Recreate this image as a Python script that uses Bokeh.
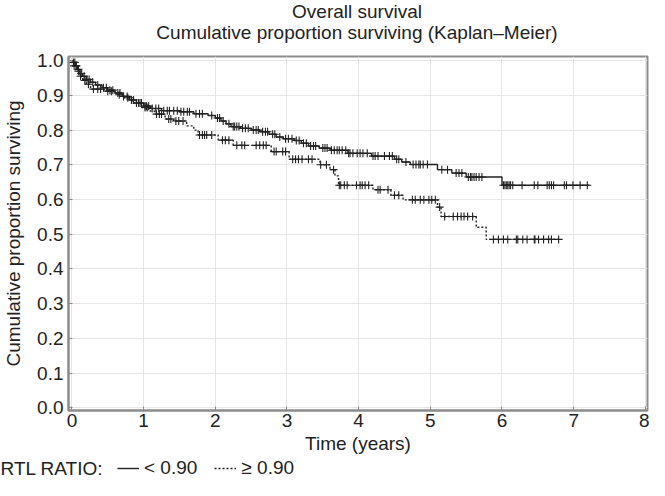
import numpy as np
from bokeh.plotting import figure
from bokeh.layouts import column
from bokeh.models import (Legend, LegendItem, FixedTicker, Label,
                          PrintfTickFormatter, Range1d)
from bokeh.embed import file_html
from bokeh.resources import INLINE

# ---------------- data ----------------
title_line1 = "Overall survival"
title_line2 = "Cumulative proportion surviving (Kaplan\u2013Meier)"
x_label = "Time (years)"
y_label = "Cumulative proportion surviving"
legend_title = "RTL RATIO:"
group_low = "< 0.90"
group_high = "\u2265 0.90"

x_ticks = [0, 1, 2, 3, 4, 5, 6, 7, 8]
y_ticks = [0.0, 0.1, 0.2, 0.3, 0.4, 0.5, 0.6, 0.7, 0.8, 0.9, 1.0]

# RTL ratio < 0.90 : event times and survival after each step
low_time = [0.0, 0.02, 0.05, 0.08, 0.11, 0.15, 0.20, 0.26, 0.33, 0.42, 0.50,
            0.60, 0.70, 0.80, 0.90, 1.00, 1.10, 1.25, 1.50, 1.70, 1.90, 2.00,
            2.08, 2.15, 2.22, 2.35, 2.50, 2.62, 2.75, 2.85, 2.95, 3.10, 3.20,
            3.30, 3.45, 3.60, 3.85, 4.18, 4.50, 4.60, 4.72, 5.10, 5.30, 5.50,
            6.00]
low_surv = [1.0, 0.995, 0.985, 0.975, 0.963, 0.955, 0.946, 0.938, 0.930,
            0.922, 0.915, 0.907, 0.897, 0.887, 0.878, 0.869, 0.862, 0.856,
            0.853, 0.847, 0.842, 0.835, 0.826, 0.818, 0.810, 0.805, 0.800,
            0.795, 0.788, 0.780, 0.775, 0.770, 0.762, 0.754, 0.748, 0.742,
            0.733, 0.725, 0.716, 0.708, 0.701, 0.686, 0.676, 0.665, 0.641]
low_end = 7.22
low_censor = [0.02, 0.04, 0.06, 0.09, 0.13, 0.17, 0.21, 0.24, 0.29, 0.36, 0.44,
              0.48, 0.53, 0.57, 0.64, 0.67, 0.72, 0.77, 0.83, 0.86, 0.93, 0.97,
              1.02, 1.04, 1.07, 1.12, 1.17, 1.21, 1.28, 1.33, 1.36, 1.42, 1.47,
              1.52, 1.56, 1.61, 1.64, 1.73, 1.78, 1.82, 1.95, 2.03, 2.06, 2.11,
              2.19, 2.25, 2.27, 2.30, 2.33, 2.38, 2.42, 2.46, 2.53, 2.57, 2.60,
              2.66, 2.70, 2.73, 2.80, 2.83, 2.90, 2.98, 3.02, 3.07, 3.13, 3.17,
              3.23, 3.27, 3.33, 3.37, 3.40, 3.50, 3.53, 3.56, 3.62, 3.66, 3.70,
              3.73, 3.77, 3.82, 3.86, 3.88, 3.92, 3.98, 4.02, 4.06, 4.12, 4.20,
              4.23, 4.27, 4.36, 4.43, 4.47, 4.53, 4.56, 4.66, 4.76, 4.80, 4.84,
              4.86, 4.90, 4.96, 5.16, 5.24, 5.36, 5.40, 5.44, 5.53, 5.56, 5.58,
              5.61, 5.64, 5.68, 5.72, 6.02, 6.04, 6.06, 6.08, 6.10, 6.12, 6.15,
              6.28, 6.45, 6.50, 6.63, 6.66, 6.69, 6.72, 6.87, 6.90, 6.99, 7.09,
              7.19]

# RTL ratio >= 0.90
high_time = [0.0, 0.03, 0.07, 0.10, 0.15, 0.20, 0.26, 0.45, 0.62, 0.72, 0.85,
             0.97, 1.08, 1.15, 1.30, 1.42, 1.60, 1.70, 1.76, 2.04, 2.25, 2.78,
             3.03, 3.46, 3.60, 3.67, 3.72, 4.20, 4.45, 4.62, 5.10, 5.15, 5.64,
             5.78]
high_surv = [1.0, 0.985, 0.970, 0.955, 0.943, 0.932, 0.918, 0.912, 0.902,
             0.893, 0.878, 0.865, 0.855, 0.846, 0.832, 0.826, 0.812, 0.800,
             0.786, 0.771, 0.756, 0.738, 0.716, 0.700, 0.686, 0.668, 0.641,
             0.628, 0.612, 0.599, 0.578, 0.551, 0.520, 0.485]
high_end = 6.81
high_censor = [0.03, 0.06, 0.09, 0.12, 0.18, 0.23, 0.30, 0.36, 0.40, 0.50, 0.55,
               0.66, 0.78, 0.90, 0.95, 1.02, 1.05, 1.18, 1.22, 1.25, 1.35, 1.38,
               1.45, 1.49, 1.55, 1.78, 1.82, 1.85, 1.88, 1.95, 2.10, 2.14, 2.19,
               2.30, 2.37, 2.41, 2.57, 2.62, 2.67, 2.71, 2.82, 2.85, 2.94, 2.98,
               3.08, 3.12, 3.16, 3.21, 3.30, 3.35, 3.47, 3.55, 3.65, 3.73, 3.75,
               3.80, 3.84, 3.97, 4.02, 4.05, 4.09, 4.14, 4.27, 4.30, 4.41, 4.50,
               4.56, 4.75, 4.79, 4.86, 4.91, 4.98, 5.02, 5.07, 5.13, 5.20, 5.32,
               5.38, 5.43, 5.47, 5.52, 5.59, 5.88, 5.95, 6.02, 6.08, 6.20, 6.22,
               6.29, 6.35, 6.45, 6.46, 6.51, 6.58, 6.65, 6.69, 6.79]


def step_value(times, surv, t):
    idx = np.searchsorted(np.asarray(times), t, side="right") - 1
    return np.asarray(surv)[idx]


INK = "#222222"
FRAME = "#8c8c8c"
FONT = "Liberation Sans"
FS = "19px"
W = 649
TOP_H = 48
LEG_H = 24
BORDER_L, BORDER_R = 66, 2


def strip(height):
    s = figure(width=W, height=height, output_backend="svg",
               toolbar_location=None, x_axis_location=None,
               y_axis_location=None, min_border=0,
               x_range=Range1d(0, 1), y_range=Range1d(0, 1))
    if "frame_align" in s.properties():
        s.frame_align = False
    s.outline_line_color = None
    s.grid.visible = False
    s.background_fill_color = "white"
    s.border_fill_color = "white"
    return s


def text_label(fig, text, x, y, align):
    fig.add_layout(Label(x=x, y=y, x_units="screen", y_units="screen",
                         text=text, text_font=FONT, text_font_size=FS,
                         text_color=INK, text_baseline="middle",
                         text_align=align))


# ---------------- title strip ----------------
t = strip(TOP_H)
frame_mid = BORDER_L + (W - BORDER_L - BORDER_R) / 2
text_label(t, title_line1, frame_mid, TOP_H - 11, "center")
text_label(t, title_line2, frame_mid, TOP_H - 32, "center")

# ---------------- main chart ----------------
p = figure(width=W, height=480 - TOP_H - LEG_H, output_backend="svg",
           toolbar_location=None,
           x_range=Range1d(-0.048, 8.03), y_range=Range1d(-0.008, 1.012),
           min_border_left=BORDER_L, min_border_right=BORDER_R,
           min_border_top=8, min_border_bottom=44)
p.background_fill_color = "white"
p.border_fill_color = "white"
p.outline_line_color = FRAME
p.outline_line_width = 2

p.xgrid.ticker = FixedTicker(ticks=x_ticks)
p.ygrid.ticker = FixedTicker(ticks=y_ticks)
for g in (p.xgrid, p.ygrid):
    g.grid_line_color = "#e6e6e6"
    g.grid_line_width = 1

p.xaxis.ticker = FixedTicker(ticks=x_ticks)
p.yaxis.ticker = FixedTicker(ticks=y_ticks)
p.yaxis.formatter = PrintfTickFormatter(format="%.1f")
for ax in (p.xaxis[0], p.yaxis[0]):
    ax.axis_line_color = FRAME
    ax.axis_line_width = 2
    ax.major_tick_in = 4
    ax.major_tick_out = 0
    ax.major_tick_line_color = FRAME
    ax.minor_tick_line_color = None
    ax.major_label_text_font = FONT
    ax.major_label_text_font_size = FS
    ax.major_label_text_color = INK
    ax.axis_label_text_font = FONT
    ax.axis_label_text_font_size = FS
    ax.axis_label_text_font_style = "normal"
    ax.axis_label_text_color = INK
p.xaxis.axis_label = x_label
p.yaxis.axis_label = y_label
p.xaxis.major_label_standoff = 3
p.yaxis.major_label_standoff = 5
p.xaxis.axis_label_standoff = 3
p.yaxis.axis_label_standoff = 10

lt = list(low_time) + [low_end]
ls = list(low_surv) + [low_surv[-1]]
ht = list(high_time) + [high_end]
hs = list(high_surv) + [high_surv[-1]]

p.step(lt, ls, mode="after", line_color=INK, line_width=1.4)
p.step(ht, hs, mode="after", line_color=INK, line_width=1.4, line_dash="2 2")

p.scatter(low_censor, step_value(low_time, low_surv, low_censor),
          marker="cross", size=8, line_color=INK, line_width=1.1)
p.scatter(high_censor, step_value(high_time, high_surv, high_censor),
          marker="cross", size=8, line_color=INK, line_width=1.1)

# ---------------- legend strip ----------------
q = strip(LEG_H)
# legend sample lines (no visible points; they only lend their style)
s_low = q.line([np.nan], [np.nan], line_color=INK, line_width=1.4)
s_high = q.line([np.nan], [np.nan], line_color=INK, line_width=1.4,
                line_dash="2 2")
text_label(q, legend_title, 0, LEG_H / 2, "left")
legend = Legend(items=[LegendItem(label=group_low, renderers=[s_low]),
                       LegendItem(label=group_high, renderers=[s_high])],
                location=(117, 0), orientation="horizontal",
                border_line_color=None, background_fill_alpha=0,
                padding=0, margin=0, spacing=17, glyph_width=22,
                glyph_height=LEG_H, label_standoff=5,
                label_text_font=FONT, label_text_font_size=FS,
                label_text_color=INK, label_height=LEG_H)
q.add_layout(legend, "center")

layout = column(t, p, q, spacing=0)
open("out.html", "w").write(file_html(layout, INLINE))
